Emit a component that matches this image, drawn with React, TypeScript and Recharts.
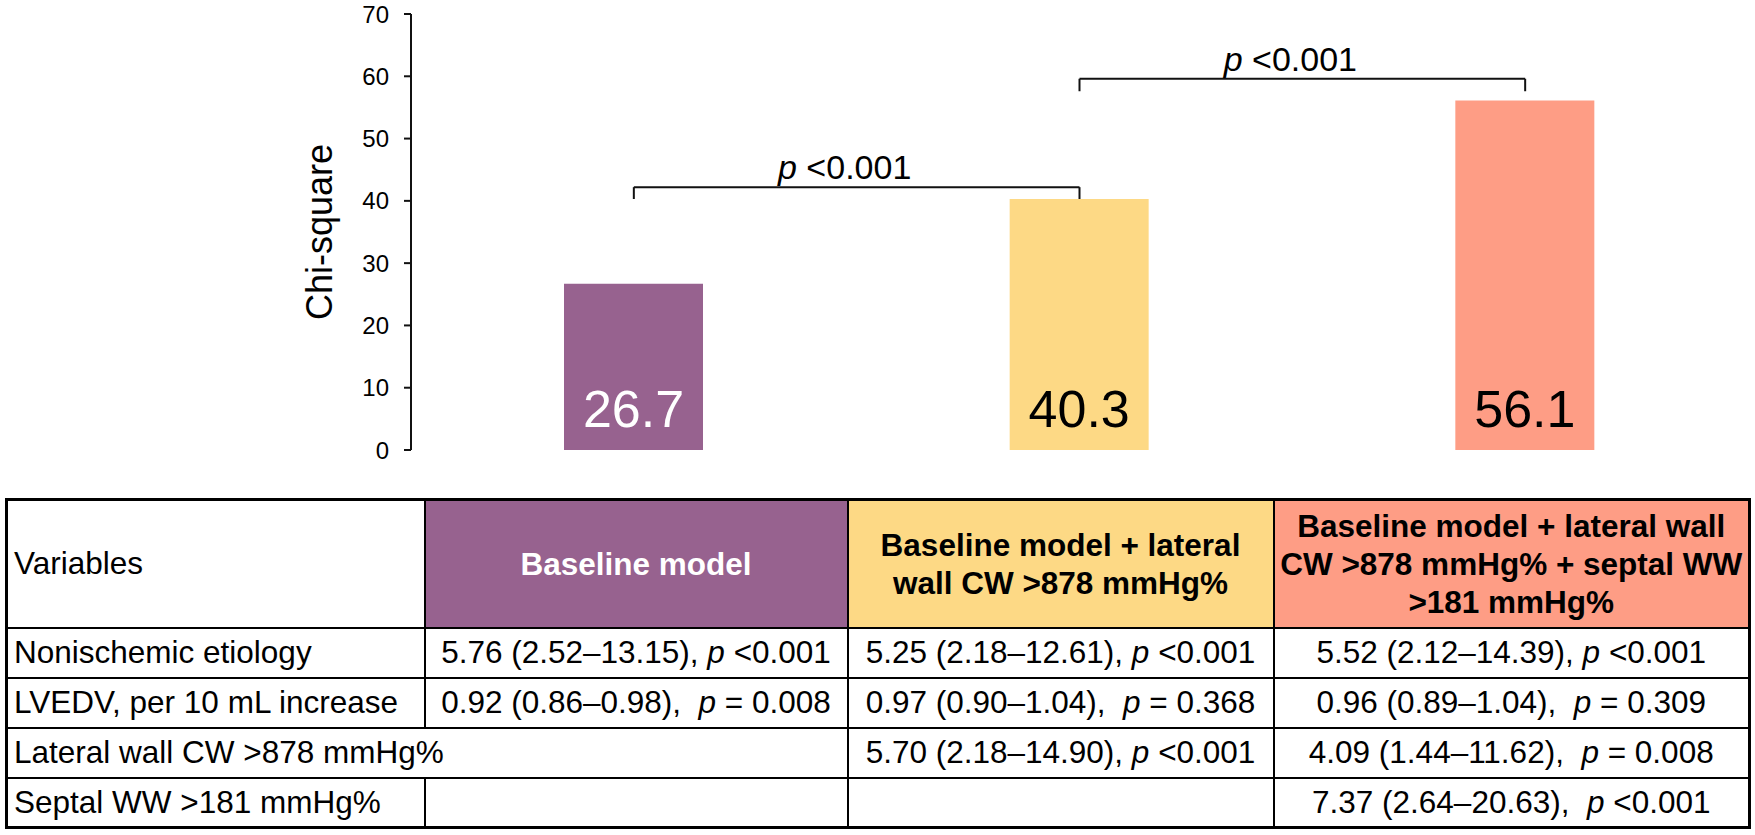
import React from 'react';
import { BarChart, Bar, XAxis, YAxis, Cell, LabelList, ReferenceLine, Label } from 'recharts';

const FONT = '"Liberation Sans", Arial, Helvetica, sans-serif';

// chart values
const models = [
  'Baseline model',
  'Baseline model + lateral wall CW >878 mmHg%',
  'Baseline model + lateral wall CW >878 mmHg% + septal WW >181 mmHg%',
];
const chiSquare = [26.7, 40.3, 56.1];
const yTicks = [0, 10, 20, 30, 40, 50, 60, 70];
const barColors = ['#97628F', '#FDD985', '#FE9D85'];
const valueColors = ['#FFFFFF', '#000000', '#000000'];

// p-value brackets between neighbouring models (values in chi-square units)
const comparisonPairs = [
  [0, 1],
  [1, 2],
];
const bracketTops = [42.2, 59.6];
const bracketLegEnds = [40.3, 57.6];
const comparisonP = ['<0.001', '<0.001'];

// table
const headerLines = [
  ['Baseline model'],
  ['Baseline model + lateral', 'wall CW >878 mmHg%'],
  ['Baseline model + lateral wall', 'CW >878 mmHg% + septal WW', '>181 mmHg%'],
];
const headerColors = ['#97628F', '#FDD985', '#FE9D85'];
const headerTextColors = ['#FFFFFF', '#000000', '#000000'];
const variables = [
  'Nonischemic etiology',
  'LVEDV, per 10 mL increase',
  'Lateral wall CW >878 mmHg%',
  'Septal WW >181 mmHg%',
];
const spansBaseline = [false, false, true, false];
// [estimate (95% CI), p text]
const baselineCells = [
  ['5.76 (2.52–13.15), ', ' <0.001'],
  ['0.92 (0.86–0.98),  ', ' = 0.008'],
  null,
  null,
];
const lateralCells = [
  ['5.25 (2.18–12.61), ', ' <0.001'],
  ['0.97 (0.90–1.04),  ', ' = 0.368'],
  ['5.70 (2.18–14.90), ', ' <0.001'],
  null,
];
const septalCells = [
  ['5.52 (2.12–14.39), ', ' <0.001'],
  ['0.96 (0.89–1.04),  ', ' = 0.309'],
  ['4.09 (1.44–11.62),  ', ' = 0.008'],
  ['7.37 (2.64–20.63),  ', ' <0.001'],
];

const chartData = models.map((model, i) => ({ model, chiSquare: chiSquare[i] }));

const YTitle = (props: any) => {
  const vb = props.viewBox || { x: 0, y: 14, width: 411, height: 436 };
  const cx = vb.x + vb.width - 79;
  const cy = vb.y + vb.height / 2;
  return (
    <text x={cx} y={cy} transform={`rotate(-90, ${cx}, ${cy})`} textAnchor="middle" fontSize={36} fontFamily={FONT} fill="#000">
      Chi-square
    </text>
  );
};

const ValueLabel = (props: any) => {
  const { x, y, width, height, value, index } = props;
  return (
    <text x={x + width / 2} y={y + height - 23} textAnchor="middle" fontSize={52} fontFamily={FONT} fill={valueColors[index]}>
      {value}
    </text>
  );
};

const bracketLabel = (pText: string) => (props: any) => {
  const vb = props.viewBox;
  if (!vb) return null;
  return (
    <text x={vb.x + vb.width / 2 - 12} y={vb.y - 8} textAnchor="middle" fontSize={34} fontFamily={FONT} fill="#000" xmlSpace="preserve">
      <tspan fontStyle="italic">p</tspan>
      <tspan>{' ' + pText}</tspan>
    </text>
  );
};

const cellStyle: React.CSSProperties = {
  border: '2px solid #000',
  padding: '0 6px',
  whiteSpace: 'pre',
  verticalAlign: 'middle',
};

function renderValue(cell: string[] | null) {
  if (!cell) return null;
  return (
    <>
      {cell[0]}
      <i>p</i>
      {cell[1]}
    </>
  );
}

export default function App() {
  return (
    <div style={{ position: 'absolute', left: 0, top: 0, width: 1755, height: 835, background: '#fff', fontFamily: FONT }}>
      <BarChart width={1755} height={480} data={chartData} margin={{ top: 14, right: 7, left: 0, bottom: 30 }}>
        <XAxis dataKey="model" tick={false} tickLine={false} height={0} axisLine={{ stroke: '#111', strokeWidth: 2 }} />
        <YAxis
          width={411}
          domain={[0, 70]}
          ticks={yTicks}
          interval={0}
          tickSize={7}
          tickMargin={15}
          axisLine={{ stroke: '#111', strokeWidth: 2 }}
          tickLine={{ stroke: '#111', strokeWidth: 2 }}
          tick={{ fontSize: 24, fill: '#000', fontFamily: FONT }}
        >
          <Label content={YTitle} />
        </YAxis>
        <Bar dataKey="chiSquare" barSize={139} isAnimationActive={false}>
          {chartData.map((d, i) => (
            <Cell key={d.model} fill={barColors[i]} />
          ))}
          <LabelList dataKey="chiSquare" content={ValueLabel} />
        </Bar>
        {comparisonPairs.map(([a, b], i) => (
          <ReferenceLine
            key={`top-${i}`}
            segment={[
              { x: models[a], y: bracketTops[i] },
              { x: models[b], y: bracketTops[i] },
            ]}
            stroke="#111"
            strokeWidth={2}
            label={bracketLabel(comparisonP[i])}
          />
        ))}
        {comparisonPairs.map(([a, b], i) =>
          [a, b].map((c) => (
            <ReferenceLine
              key={`leg-${i}-${c}`}
              segment={[
                { x: models[c], y: bracketTops[i] },
                { x: models[c], y: bracketLegEnds[i] },
              ]}
              stroke="#111"
              strokeWidth={2}
            />
          ))
        )}
      </BarChart>

      <table
        style={{
          position: 'absolute',
          left: 5,
          top: 498,
          width: 1743,
          borderCollapse: 'collapse',
          tableLayout: 'fixed',
          border: '3px solid #000',
          fontSize: 31.5,
          fontFamily: FONT,
          color: '#000',
        }}
      >
        <colgroup>
          <col style={{ width: 418 }} />
          <col style={{ width: 423 }} />
          <col style={{ width: 426 }} />
          <col style={{ width: 476 }} />
        </colgroup>
        <tbody>
          <tr style={{ height: 128 }}>
            <td style={{ ...cellStyle, textAlign: 'left' }}>Variables</td>
            {headerLines.map((lines, i) => (
              <td
                key={i}
                style={{
                  ...cellStyle,
                  background: headerColors[i],
                  color: headerTextColors[i],
                  fontWeight: 'bold',
                  textAlign: 'center',
                  lineHeight: '38px',
                  padding: 0,
                }}
              >
                {lines.map((ln, j) => (
                  <div key={j}>{ln}</div>
                ))}
              </td>
            ))}
          </tr>
          {variables.map((name, i) => (
            <tr key={name} style={{ height: 50 }}>
              {spansBaseline[i] ? (
                <td colSpan={2} style={{ ...cellStyle, textAlign: 'left' }}>
                  {name}
                </td>
              ) : (
                <>
                  <td style={{ ...cellStyle, textAlign: 'left' }}>{name}</td>
                  <td style={{ ...cellStyle, textAlign: 'center', padding: 0 }}>{renderValue(baselineCells[i])}</td>
                </>
              )}
              <td style={{ ...cellStyle, textAlign: 'center', padding: 0 }}>{renderValue(lateralCells[i])}</td>
              <td style={{ ...cellStyle, textAlign: 'center', padding: 0 }}>{renderValue(septalCells[i])}</td>
            </tr>
          ))}
        </tbody>
      </table>
    </div>
  );
}
